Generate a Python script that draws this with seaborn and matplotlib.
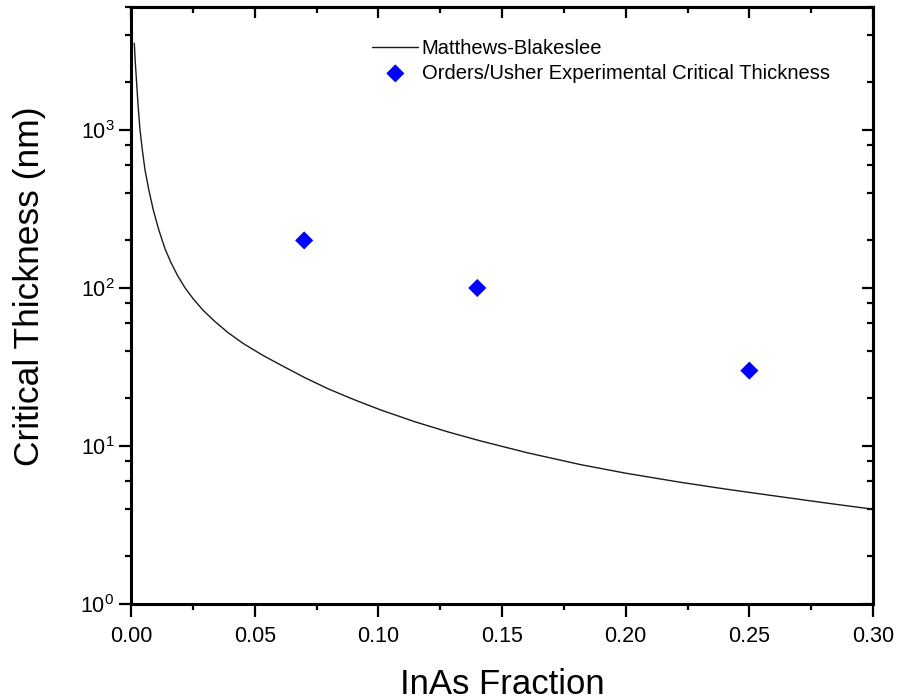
import matplotlib
matplotlib.use("Agg")
import matplotlib.pyplot as plt
from matplotlib.ticker import LogLocator, MultipleLocator, FormatStrFormatter, NullFormatter
import seaborn as sns

# Matthews-Blakeslee curve
inas_fraction_mb = [0.00133, 0.00174, 0.0023, 0.0029, 0.00364, 0.00457, 0.00566, 0.0072,
                    0.0090, 0.01124, 0.01375, 0.0160, 0.0188, 0.0218, 0.0251, 0.0292,
                    0.0340, 0.0392, 0.0454, 0.0534, 0.0616, 0.070, 0.080, 0.090,
                    0.101, 0.115, 0.128, 0.141, 0.160, 0.182, 0.200, 0.222,
                    0.240, 0.262, 0.280, 0.300]
thickness_mb = [3540, 2655, 1954, 1398, 1000, 747, 558, 417,
                312, 233, 177, 146.6, 120, 100.4, 85.6, 72.1,
                61.2, 52.2, 44.5, 37.4, 31.9, 27.2, 22.9, 19.7,
                16.9, 14.2, 12.3, 10.8, 9.08, 7.61, 6.73, 5.90,
                5.35, 4.79, 4.38, 3.98]

# Orders/Usher experimental points
inas_fraction_exp = [0.07, 0.14, 0.25]
thickness_exp = [200, 100, 30]

sns.set_style("ticks")
plt.rcParams["font.family"] = ["Liberation Sans", "DejaVu Sans"]
plt.rcParams["mathtext.fontset"] = "custom"
plt.rcParams["mathtext.rm"] = "Liberation Sans"
plt.rcParams["mathtext.it"] = "Liberation Sans:italic"
plt.rcParams["text.color"] = "black"
plt.rcParams["axes.labelcolor"] = "black"
plt.rcParams["xtick.color"] = "black"
plt.rcParams["ytick.color"] = "black"

fig = plt.figure(figsize=(8.98, 7), dpi=100)
ax = fig.add_axes([0.1459, 0.1371, 0.8263, 0.8529])

sns.lineplot(x=inas_fraction_mb, y=thickness_mb, ax=ax, color="#1a1a1a", lw=1.0,
             sort=False, estimator=None, label="Matthews-Blakeslee")
sns.scatterplot(x=inas_fraction_exp, y=thickness_exp, ax=ax, marker="D", s=85,
                color="#0000ff", edgecolor="none",
                label="Orders/Usher Experimental Critical Thickness")

ax.set_yscale("log")
ax.set_xlim(0, 0.30)
ax.set_ylim(1, 6000)

ax.xaxis.set_major_locator(MultipleLocator(0.05))
ax.xaxis.set_minor_locator(MultipleLocator(0.025))
ax.xaxis.set_major_formatter(FormatStrFormatter("%.2f"))
ax.yaxis.set_major_locator(LogLocator(base=10, numticks=10))
ax.yaxis.set_minor_locator(LogLocator(base=10, subs=(2, 4, 6, 8), numticks=20))
ax.yaxis.set_minor_formatter(NullFormatter())

for s in ax.spines.values():
    s.set_visible(True)
    s.set_linewidth(2.2)
    s.set_color("black")

ax.tick_params(which="major", direction="out", length=9, width=1.6, labelsize=15.5,
               top=False, right=False, colors="black")
ax.tick_params(which="minor", direction="out", length=4.5, width=1.6,
               top=False, right=False, colors="black")
ax.tick_params(axis="x", which="major", pad=6.5)
ax.tick_params(axis="y", which="major", pad=3)

# inward ticks on the top and right edges
top = ax.secondary_xaxis("top")
top.xaxis.set_major_locator(MultipleLocator(0.05))
top.xaxis.set_minor_locator(MultipleLocator(0.025))
top.tick_params(which="major", direction="in", length=8, width=1.6, labeltop=False)
top.tick_params(which="minor", direction="in", length=4, width=1.6, labeltop=False)
top.spines["top"].set_linewidth(2.2)

right = ax.secondary_yaxis("right")
right.yaxis.set_major_locator(LogLocator(base=10, numticks=10))
right.yaxis.set_minor_locator(LogLocator(base=10, subs=(2, 4, 6, 8), numticks=20))
right.tick_params(which="major", direction="in", length=8, width=1.6, labelright=False)
right.tick_params(which="minor", direction="in", length=4, width=1.6, labelright=False)
right.spines["right"].set_linewidth(2.2)

ax.set_xlabel("InAs Fraction", fontsize=25, labelpad=15.5)
ax.set_ylabel("Critical Thickness (nm)", fontsize=25.5)
ax.yaxis.set_label_coords(-0.114, 0.532)

ax.legend(loc="upper left", bbox_to_anchor=(0.325, 0.947), frameon=False,
          fontsize=14.5, borderpad=0, borderaxespad=0, handlelength=2.3,
          handletextpad=0.15, labelspacing=0.3)

fig.savefig("out.png", dpi=100)
